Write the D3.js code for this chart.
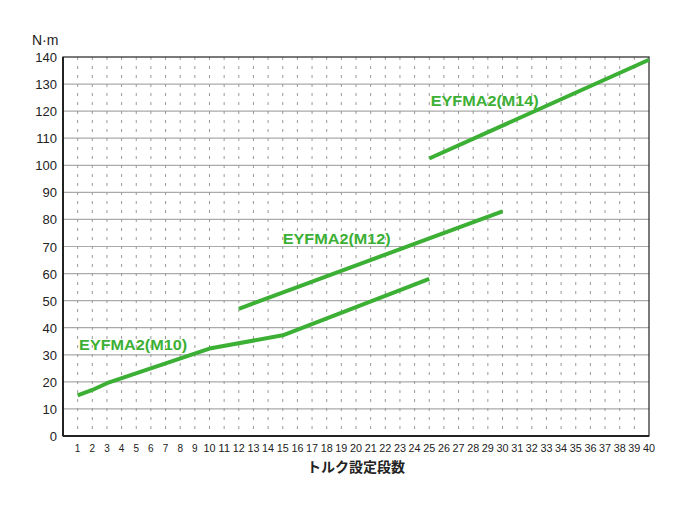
<!DOCTYPE html>
<html><head><meta charset="utf-8">
<script src="https://cdn.jsdelivr.net/npm/d3@7"></script>
<style>body{margin:0;background:#fff}text{font-family:"Liberation Sans","Noto Sans CJK JP",sans-serif}</style>
</head><body><svg id="c" width="690" height="512"></svg>
<script>
const steps = d3.range(1, 41);
const yTicks = d3.range(0, 141, 10);
const m10 = [[1,15],[2,17],[3,19.5],[10,32.3],[15,37.2],[25,58]];
const m12 = [[12,47],[30,83]];
const m14 = [[25,102.5],[40,139]];
const labels = [
  {t:"EYFMA2(M10)", x:1.1, y:34},
  {t:"EYFMA2(M12)", x:15, y:73},
  {t:"EYFMA2(M14)", x:25.1, y:124}
];

const svg = d3.select("#c");
const x = d3.scaleLinear().domain([0, 40]).range([63, 649]);
const y = d3.scaleLinear().domain([0, 140]).range([436, 57]);
const green = "#3cb034";

svg.append("g").selectAll("line").data(yTicks.slice(1, -1)).enter().append("line")
  .attr("x1", 63).attr("x2", 649).attr("y1", d => y(d)).attr("y2", d => y(d))
  .attr("stroke", "#aaa").attr("stroke-width", 1.2);
svg.append("g").selectAll("line").data(steps.slice(0, -1)).enter().append("line")
  .attr("x1", d => x(d)).attr("x2", d => x(d)).attr("y1", 57).attr("y2", 436)
  .attr("stroke", "#999").attr("stroke-width", 1).attr("stroke-dasharray", "3,6");
svg.append("rect").attr("x", 63).attr("y", 57).attr("width", 586).attr("height", 379)
  .attr("fill", "none").attr("stroke", "#222").attr("stroke-width", 1.2);
svg.append("line").attr("x1", 63).attr("x2", 649).attr("y1", 436).attr("y2", 436)
  .attr("stroke", "#222").attr("stroke-width", 2);
svg.append("line").attr("x1", 63).attr("x2", 63).attr("y1", 57).attr("y2", 436)
  .attr("stroke", "#222").attr("stroke-width", 2);

svg.append("g").selectAll("text").data(yTicks).enter().append("text")
  .attr("x", 57).attr("y", d => y(d) + 5).attr("text-anchor", "end")
  .attr("font-size", 13).attr("fill", "#222").text(d => d);
svg.append("g").selectAll("text").data(steps).enter().append("text")
  .attr("x", d => x(d)).attr("y", 452).attr("text-anchor", "middle")
  .attr("font-size", 10).attr("textLength", d => d > 9 ? 12 : null)
  .attr("lengthAdjust", "spacingAndGlyphs").attr("fill", "#222").text(d => d);
svg.append("text").attr("x", 32).attr("y", 45).attr("font-size", 14).attr("fill", "#222").text("N·m");
svg.append("text").attr("x", 356).attr("y", 472).attr("text-anchor", "middle")
  .attr("font-size", 14).attr("font-weight", "bold").attr("fill", "#222").text("トルク設定段数");

const line = d3.line().x(d => x(d[0])).y(d => y(d[1]));
[m10, m12, m14].forEach(s => svg.append("path").attr("d", line(s))
  .attr("fill", "none").attr("stroke", green).attr("stroke-width", 4).attr("stroke-linejoin", "round"));

svg.append("g").selectAll("text").data(labels).enter().append("text")
  .attr("x", d => x(d.x)).attr("y", d => y(d.y) + 6).attr("font-size", 15)
  .attr("textLength", 108).attr("lengthAdjust", "spacingAndGlyphs")
  .attr("font-weight", "bold").attr("fill", green).text(d => d.t);
</script></body></html>
